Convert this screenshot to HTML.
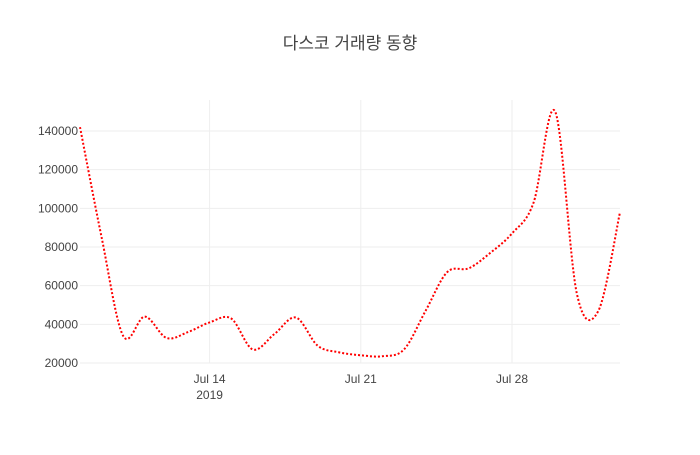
<!DOCTYPE html>
<html><head><meta charset="utf-8"><style>
body{margin:0;background:#fff;}
svg text{font-family:"Liberation Sans","Noto Sans CJK KR",sans-serif;fill:#444;}
</style></head><body>
<svg id="chart" width="700" height="450" xmlns="http://www.w3.org/2000/svg">
<text x="350" y="49" text-anchor="middle" font-size="17">다스코 거래량 동향</text>
<g id="grid"></g>
<g id="yticks"></g>
<g id="xticks"></g>
<path id="line" fill="none" stroke="#ff0000" stroke-width="2" stroke-dasharray="2,2"/>
</svg>
<script>
const dates = ["2019-07-08","2019-07-09","2019-07-10","2019-07-11","2019-07-12","2019-07-13","2019-07-14","2019-07-15","2019-07-16","2019-07-17","2019-07-18","2019-07-19","2019-07-20","2019-07-21","2019-07-22","2019-07-23","2019-07-24","2019-07-25","2019-07-26","2019-07-27","2019-07-28","2019-07-29","2019-07-30","2019-07-31","2019-08-01","2019-08-02"];
const volumes = [142000,85000,34000,44000,33000,36000,41000,43000,27000,35000,43500,29000,25500,24000,23500,27000,47000,67000,69000,77000,87000,103000,150000,56000,47000,98000];
const yTicks = [20000,40000,60000,80000,100000,120000,140000];
const xTickDates = ["2019-07-14","2019-07-21","2019-07-28"];
const xTickLabels = ["Jul 14","Jul 21","Jul 28"];

const NS="http://www.w3.org/2000/svg";
const x0=80,x1=620,yTop=100,yBot=363;
const t0=Date.parse(dates[0]),t1=Date.parse(dates[dates.length-1]);
function xs(d){return x0+(Date.parse(d)-t0)/(t1-t0)*(x1-x0);}
function ys(v){return 363-(v-20000)/120000*232;}
function mk(tag,attrs,parent){const e=document.createElementNS(NS,tag);for(const k in attrs)e.setAttribute(k,attrs[k]);parent.appendChild(e);return e;}
const grid=document.getElementById('grid'),yg=document.getElementById('yticks'),xg=document.getElementById('xticks');
yTicks.forEach(v=>{
  const l=mk('line',{x1:x0,x2:x1,y1:ys(v),y2:ys(v),stroke:'#eee','stroke-width':1},grid);
  
  
  const t=mk('text',{x:x0-2,y:ys(v)+4,'text-anchor':'end','font-size':12},yg);
  
  
  t.textContent=v;
});
xTickDates.forEach((d,i)=>{
  const x=xs(d);
  const l=mk('line',{x1:x,x2:x,y1:yTop,y2:yBot,stroke:'#eee','stroke-width':1},grid);
  
  
  const t=mk('text',{x:x,y:383,'text-anchor':'middle','font-size':12},xg);
  
  
  t.textContent=xTickLabels[i];
  if(i===0){const y=mk('text',{x:x,y:399,'text-anchor':'middle','font-size':12},xg);
    
    
    y.textContent='2019';}
});
const pts=dates.map((d,i)=>[xs(d),ys(volumes[i])]);
let p='M'+pts[0][0]+','+pts[0][1];
for(let i=0;i<pts.length-1;i++){
  const a=pts[Math.max(0,i-1)],b=pts[i],c=pts[i+1],d=pts[Math.min(pts.length-1,i+2)];
  const k=1/6;
  p+=' C'+(b[0]+(c[0]-a[0])*k)+','+(b[1]+(c[1]-a[1])*k)+' '+(c[0]-(d[0]-b[0])*k)+','+(c[1]-(d[1]-b[1])*k)+' '+c[0]+','+c[1];
}
document.getElementById('line').setAttribute('d',p);
</script>
</body></html>
